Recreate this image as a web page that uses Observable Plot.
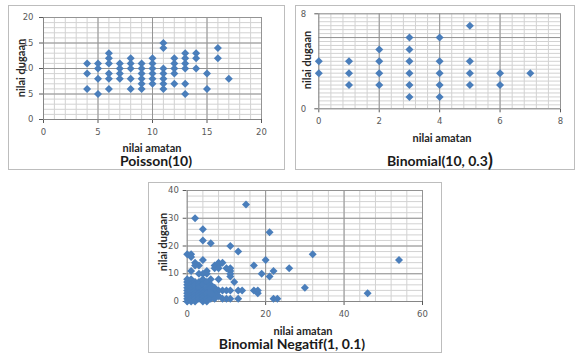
<!DOCTYPE html>
<html>
<head>
<meta charset="utf-8">
<script src="https://cdn.jsdelivr.net/npm/d3@7"></script>
<script src="https://cdn.jsdelivr.net/npm/@observablehq/plot@0.6"></script>
<style>
  html, body { margin: 0; padding: 0; background: #fff; }
  #root { position: relative; width: 577px; height: 353px; overflow: hidden; background: #fff; }
  .box { position: absolute; border: 1px solid #bdbdbd; box-sizing: border-box; }
  .pl { position: absolute; }
  .lbl { position: absolute; transform: translate(-50%, -50%); white-space: nowrap; line-height: 1;
         font-family: Lato, "Noto Sans", sans-serif; font-weight: bold; color: #262626; }
  .ax { font-size: 11px; }
  .ttl { font-size: 14px; color: #1a1a1a; }
  .rot { transform: translate(-50%, -50%) rotate(-90deg); }
</style>
</head>
<body>
<div id="root"></div>
<script>
// ---------- DATA ----------
// Poisson(10): observed (nilai amatan) vs estimated (nilai dugaan)
const poissonX = [4,4,4, 5,5,5,5, 6,6,6,6,6,6, 7,7,7,7, 8,8,8,8,8, 9,9,9,9,9,9,
  10,10,10,10,10,10, 11,11,11,11,11,11,11, 12,12,12,12,12, 13,13,13,13,13,13, 14,14,14, 15,15, 16,16, 17];
const poissonY = [11,9,6, 11,10,8,5, 13,12,11,9,8,6, 11,10,9,8, 12,11,10,8,6, 11,10,9,8,7,6,
  12,11,10,9,8,7, 15,14,10,9,8,7,6, 12,11,10,9,7, 13,12,11,10,7,5, 13,12,10, 9,6, 14,12, 8];

// Binomial(10, 0.3)
const binomX = [0,0, 1,1,1, 2,2,2,2, 3,3,3,3,3,3, 4,4,4,4,4, 5,5,5,5, 6,6, 7];
const binomY = [4,3, 4,3,2, 5,4,3,2, 6,5,4,3,2,1, 6,4,3,2,1, 7,4,3,2, 3,2, 3];

// Binomial Negatif(1, 0.1)
const negbinX = [15,2,4,4,6,11,13,21,32,54,26,20,17,19,21,22,30,46,22,23,17,18,18,14,13,13,12,11,11,11,10,11,
  10,11,10,11,9,8,7,7,8,7,8,8,9,7,8,5,4,2,3,2,4,0,1,1,1,3,
  0,0,0,0,0,0,0,0,0, 1,1,1,1,1,1,1,1, 2,2,2,2,2,2,2, 3,3,3,3,3,3, 4,4,4,4,4,4,4, 5,5,5,5,5,
  6,6,6,6, 7,7,7,8,9,6,5,6,6];
const negbinY = [35,30,26,22,21,20,18,25,17,15,12,15,13,10,9,11,5,3,1,1,4,4,3,4,4,1,7,12,11,10,12,9,
  4,4,1,1,4,4,4,3,8,13,13,14,14,12,12,11,10,14,13,13,15,17,17,16,11,10,
  8,7,6,5,4,3,2,1,0, 8,6,5,4,3,2,1,0, 7,6,4,3,2,1,0, 7,6,5,3,2,1, 8,6,4,3,2,1,0, 7,5,3,1,0,
  6,4,2,1, 5,2,1,2,1,8,10,5,3];

// tick labels
const poissonXTicks = [0,5,10,15,20], poissonYTicks = [0,5,10,15,20];
const binomXTicks = [0,2,4,6,8], binomYTicks = [0,8];
const negbinXTicks = [0,20,40,60], negbinYTicks = [0,10,20,30,40];

// ---------- DRAW ----------
const root = document.getElementById("root");

const diamond = {
  draw(ctx, size) {
    const h = Math.sqrt(size / Math.PI);
    ctx.moveTo(0, -h); ctx.lineTo(h, 0); ctx.lineTo(0, h); ctx.lineTo(-h, 0); ctx.closePath();
  }
};

function rng(a, b, s) { const out = []; const n = Math.round((b - a) / s); for (let i = 0; i <= n; i++) out.push(a + i * s); return out; }

function panel(o) {
  const data = o.X.map((x, i) => ({x, y: o.Y[i]}));
  const svg = Plot.plot({
    width: o.w, height: o.h,
    marginLeft: o.ml, marginRight: o.mr, marginTop: o.mt, marginBottom: o.mb,
    x: {domain: o.xd, ticks: o.xt, tickSize: 4, tickPadding: o.xpad, label: null},
    y: {domain: o.yd, ticks: o.yt, tickSize: 4, tickPadding: o.ypad, label: null},
    style: {fontFamily: "DejaVu Sans", fontSize: "8.5px", color: "#595959", background: "transparent", overflow: "visible"},
    marks: [
      Plot.ruleX(o.xMinor, {stroke: "#d2d2d2", strokeWidth: 1}),
      Plot.ruleY(o.yMinor, {stroke: "#d2d2d2", strokeWidth: 1}),
      Plot.ruleX(o.xMajor, {stroke: "#949494", strokeWidth: 1}),
      Plot.ruleY(o.yMajor, {stroke: "#949494", strokeWidth: 1}),
      Plot.ruleX([o.xd[0]], {stroke: "#868686", strokeWidth: 1}),
      Plot.ruleY([o.yd[0]], {stroke: "#868686", strokeWidth: 1}),
      Plot.dot(data, {x: "x", y: "y", symbol: diamond, r: 4, fill: "#4A7EBB", stroke: "none"})
    ]
  });
  svg.classList.add("pl");
  svg.style.left = o.left + "px";
  svg.style.top = o.top + "px";
  const box = document.createElement("div");
  box.className = "box";
  Object.assign(box.style, {left: o.left + "px", top: o.top + "px", width: o.w + "px", height: o.h + "px"});
  root.appendChild(box);
  root.appendChild(svg);
}

function label(text, x, y, cls, html) {
  const d = document.createElement("div");
  d.className = "lbl " + cls;
  if (html) d.innerHTML = html; else d.textContent = text;
  d.style.left = x + "px"; d.style.top = y + "px";
  root.appendChild(d);
}

// Panel 1: Poisson(10)
panel({left: 8, top: 5, w: 277, h: 165, ml: 35, mr: 24, mt: 12, mb: 51,
  xd: [0, 20], yd: [0, 20], xt: poissonXTicks, yt: poissonYTicks, xpad: 5, ypad: 6,
  xMinor: rng(0, 20, 1), yMinor: rng(0, 20, 1), xMajor: [5, 10, 15, 20], yMajor: [5, 10, 15, 20],
  X: poissonX, Y: poissonY});
label("nilai amatan", 152, 146.5, "ax");
label("Poisson(10)", 156, 161, "ttl");
label("nilai dugaan", 20, 68, "ax rot");

// Panel 2: Binomial(10, 0.3)
panel({left: 295, top: 5, w: 280, h: 165, ml: 23.3, mr: 15, mt: 8.3, mb: 61.7,
  xd: [0, 8], yd: [0, 8], xt: binomXTicks, yt: binomYTicks, xpad: 5, ypad: 8.6,
  xMinor: rng(0, 8, 0.4), yMinor: rng(0, 8, 1/3), xMajor: [2, 4, 6, 8], yMajor: [6, 8],
  X: binomX, Y: binomY});
label("nilai amatan", 442, 136.7, "ax");
label("", 440, 158, "ttl", 'Binomial(10, 0.3<span style="font-size:19px;position:relative;top:1px">)</span>');
label("nilai dugaan", 306, 60, "ax rot");

// Panel 3: Binomial Negatif(1, 0.1)
panel({left: 148, top: 182, w: 294, h: 171, ml: 38.7, mr: 20, mt: 8, mb: 52,
  xd: [0, 60], yd: [0, 40], xt: negbinXTicks, yt: negbinYTicks, xpad: 5, ypad: 4.4,
  xMinor: rng(0, 60, 4), yMinor: rng(0, 40, 2), xMajor: [20, 40, 60], yMajor: [10, 20, 30, 40],
  X: negbinX, Y: negbinY});
label("nilai amatan", 303, 329.5, "ax");
label("Binomial Negatif(1, 0.1)", 292, 343.5, "ttl");
label("nilai dugaan", 162, 242, "ax rot");
</script>
</body>
</html>
